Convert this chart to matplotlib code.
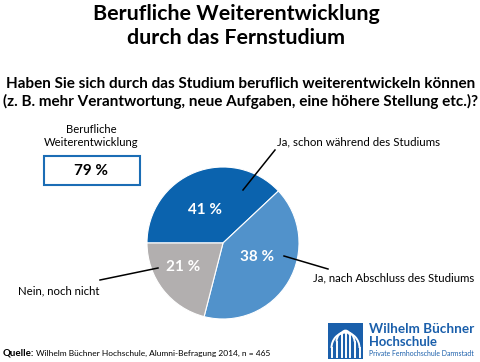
import numpy as np
import matplotlib
matplotlib.use('Agg')
import matplotlib.pyplot as plt
from matplotlib.patches import Rectangle, Arc

plt.rcParams['font.family'] = ['Lato', 'DejaVu Sans']

# data
categories = ['Ja, schon während des Studiums',
              'Ja, nach Abschluss des Studiums',
              'Nein, noch nicht']
pct_labels = [41, 38, 21]          # printed numbers
wedge_share = [38, 41, 21]         # arc sizes as drawn in the graphic
colors = ['#0b63ae', '#5192cb', '#b2afaf']
total_label = 79

title = 'Berufliche Weiterentwicklung\ndurch das Fernstudium'
question = ('Haben Sie sich durch das Studium beruflich weiterentwickeln können\n'
            '(z. B. mehr Verantwortung, neue Aufgaben, eine höhere Stellung etc.)?')
source = 'Wilhelm Büchner Hochschule, Alumni-Befragung 2014, n = 465'

W, H = 480, 362
fig = plt.figure(figsize=(W / 100, H / 100), dpi=100)
renderer = fig.canvas.get_renderer()


def fit(t, width):
    # scale font so the text is `width` pixels wide
    w = t.get_window_extent(renderer).width
    t.set_fontsize(t.get_fontsize() * width / w)
    return t


# pie
cx, cy, r = 223, 243, 76
pax = fig.add_axes([(cx - r) / W, (H - cy - r) / H, 2 * r / W, 2 * r / H])
wedges, _ = pax.pie(wedge_share, colors=colors, startangle=180, counterclock=False,
                    wedgeprops=dict(edgecolor='white', linewidth=0.8))
pax.set_xlim(-1, 1)
pax.set_ylim(-1, 1)

# overlay axes in pixel coords (y downwards)
ov = fig.add_axes([0, 0, 1, 1])
ov.set_xlim(0, W)
ov.set_ylim(H, 0)
ov.axis('off')

# percentage labels inside
pct_pos = [(205, 210), (257, 257), (183, 267)]
for (x, y), p in zip(pct_pos, pct_labels):
    ov.text(x, y, f'{p} %', color='white', fontsize=11, fontweight='bold',
            ha='center', va='center')

# leader lines and category labels
lines = [((243, 190), (275, 150)), ((284, 256), (328, 269)), ((158, 268), (100, 280))]
for (p0, p1) in lines:
    ov.plot([p0[0], p1[0]], [p0[1], p1[1]], color='black', lw=1.1)
fit(ov.text(277, 142, categories[0], fontsize=9, ha='left', va='center'), 164)
fit(ov.text(313, 278, categories[1], fontsize=9, ha='left', va='center'), 162)
fit(ov.text(99, 291, categories[2], fontsize=9, ha='right', va='center'), 82)

# titles
fit(ov.text(236, 26, title, fontsize=15, fontweight='bold', ha='center', va='center',
            linespacing=1.2), 287)
fit(ov.text(241, 93, question, fontsize=10, fontweight='bold', ha='center', va='center',
            linespacing=1.25), 476)

# total box
fit(ov.text(91, 136, 'Berufliche\nWeiterentwicklung', fontsize=9, ha='center',
            va='center', linespacing=1.2), 95)
ov.add_patch(Rectangle((43.5, 156), 96, 29, facecolor='white', edgecolor='#1b6db5',
                       lw=1.5))
ov.text(91, 171, f'{total_label} %', fontsize=11, fontweight='bold', ha='center',
        va='center')

# source
q = ov.text(3, 353, 'Quelle:', fontsize=7, fontweight='bold', ha='left', va='center')
q_w = q.get_window_extent(renderer).width
fit(ov.text(3 + q_w + 1.5, 353, source, fontsize=7, ha='left', va='center'),
    266 - q_w - 1.5)

# logo
blue = '#1a5fab'
ov.add_patch(Rectangle((328, 323), 35, 36, facecolor=blue, edgecolor='none'))
lx = 345.5
for w, top in [(4, 333), (9, 337), (14, 341)]:
    for sx in (-1, 1):
        ov.plot([lx + sx * w, lx + sx * w], [top + w * 0.5, 357], color='white', lw=1.4)
    ov.add_patch(Arc((lx, top + w * 0.5), 2 * w, 2 * w * 1.1, theta1=180, theta2=360,
                     color='white', lw=1.4))
ov.plot([lx, lx], [333, 357], color='white', lw=1.4)
fit(ov.text(369, 329, 'Wilhelm Büchner', fontsize=11, fontweight='bold', color=blue,
            ha='left', va='center'), 104)
fit(ov.text(369, 342, 'Hochschule', fontsize=11, fontweight='bold', color=blue,
            ha='left', va='center'), 68)
fit(ov.text(369, 354, 'Private Fernhochschule Darmstadt', fontsize=6, color=blue,
            ha='left', va='center'), 105)

plt.savefig('out.png', dpi=100)
